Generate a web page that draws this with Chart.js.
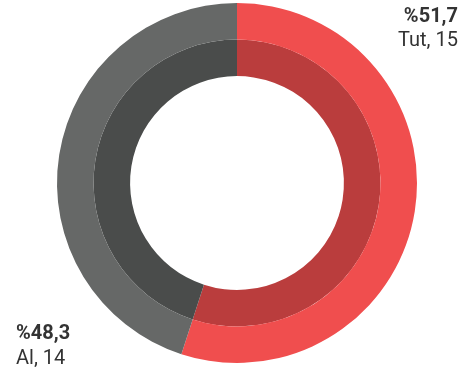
<!DOCTYPE html>
<html>
<head>
<meta charset="utf-8">
<script src="https://cdn.jsdelivr.net/npm/chart.js@4/dist/chart.umd.min.js"></script>
<style>
    html, body { margin: 0; padding: 0; background: #fff; }
    #wrap { position: relative; width: 474px; height: 374px; }
</style>
</head>
<body>
<div id="wrap"><canvas id="donut"></canvas></div>
<script>
// data
const categories = ['Tut', 'Al'];
const counts = [15, 14];
const percentLabels = ['%51,7', '%48,3'];
// arc sizes as drawn in the reference (red arc ends ~198deg past top)
const arcShares = [55, 45];

const outerColors = ['#f04e4e', '#666867'];
const innerColors = ['#ba3d3d', '#4a4c4b'];

// corner labels: top right for first slice, bottom left for second
const cornerLabels = {
    id: 'cornerLabels',
    afterDraw(chart) {
        const ctx = chart.ctx;
        ctx.save();
        ctx.fillStyle = '#333';
        ctx.textBaseline = 'alphabetic';

        ctx.textAlign = 'right';
        ctx.font = 'bold 20px Roboto';
        ctx.fillText(percentLabels[0], 458, 22);
        ctx.font = '20px Roboto';
        ctx.fillText(categories[0] + ', ' + counts[0], 458, 46);

        ctx.textAlign = 'left';
        ctx.font = 'bold 20px Roboto';
        ctx.fillText(percentLabels[1], 16, 339);
        ctx.font = '20px Roboto';
        ctx.fillText(categories[1] + ', ' + counts[1], 16, 364);
        ctx.restore();
    }
};

new Chart(document.getElementById('donut'), {
    type: 'doughnut',
    data: {
        labels: categories,
        datasets: [
            { data: arcShares, backgroundColor: outerColors, borderWidth: 0 },
            { data: arcShares, backgroundColor: innerColors, borderWidth: 0 }
        ]
    },
    options: {
        responsive: true,
        maintainAspectRatio: false,
        animation: false,
        cutout: '59.4%',
        layout: { padding: { top: 3, bottom: 11, left: 57, right: 57 } },
        plugins: {
            legend: { display: false },
            tooltip: { enabled: false }
        }
    },
    plugins: [cornerLabels]
});
</script>
</body>
</html>
